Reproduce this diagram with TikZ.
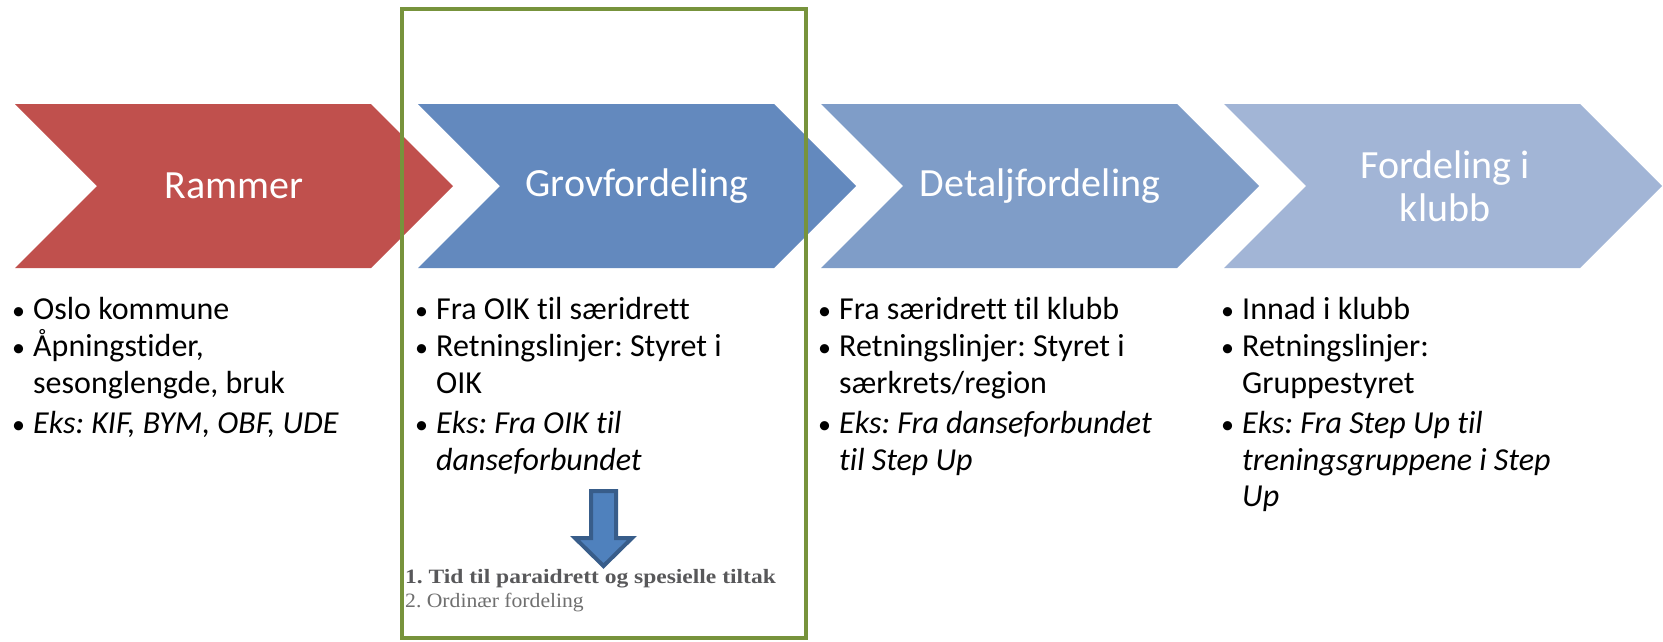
\documentclass[tikz,border=0pt]{standalone}
\usepackage{fontspec}
\setmainfont[Ligatures={NoCommon}]{Carlito}
\newfontfamily\geob[FakeStretch=1.155]{Liberation Serif}
\newfontfamily\geor[FakeStretch=1.064]{Liberation Serif}
\definecolor{cred}{HTML}{C0504D}
\definecolor{cblueA}{HTML}{6389BE}
\definecolor{cblueB}{HTML}{7F9DC8}
\definecolor{cblueC}{HTML}{A2B5D6}
\definecolor{cgreen}{HTML}{77933C}
\definecolor{arrfill}{HTML}{4F81BD}
\definecolor{arrline}{HTML}{385D8A}
\definecolor{gdark}{HTML}{58585A}
\definecolor{glight}{HTML}{6F6F6F}
\frenchspacing
\begin{document}
\begin{tikzpicture}[x=1pt,y=-1pt,
  lab/.style={font=\fontsize{40}{43}\selectfont, text=white, align=center, inner sep=0},
  txt/.style={font=\fontsize{32}{37}\selectfont, anchor=base west, inner sep=0, text=black},
  itx/.style={txt, font=\fontsize{32}{37}\selectfont\itshape},
  bul/.style={font=\fontsize{26}{37}\selectfont, anchor=base west, inner sep=0, text=black},
  noteb/.style={font=\geob\fontsize{20.35}{22}\selectfont\bfseries, anchor=base west, inner sep=0, text=gdark},
  noter/.style={font=\geor\fontsize{20.35}{22}\selectfont, anchor=base west, inner sep=0, text=glight}]
\useasboundingbox (0,0) rectangle (1663,641);
% chevrons
\newcommand{\chev}[2]{\fill[#2] (#1,104) -- ++(356,0) -- ++(82,82) -- ++(-82,82) -- ++(-356,0) -- ++(82,-82) -- cycle;}
\chev{15}{cred}
\chev{418}{cblueA}
\chev{821}{cblueB}
\chev{1224}{cblueC}
\node[lab] (l1) at (234,186) {Rammer};
\node[lab] (l2) at (637,186) {Grovfordeling};
\node[lab] (l3) at (1040,186) {Detaljfordeling};
\node[lab] (l4) at (1445,186) {Fordeling i\\klubb};
% column 1
\node[bul] (b11) at (12,319) {•};
\node[txt] (t11) at (33,319) {Oslo kommune};
\node[bul] (b12) at (12,356) {•};
\node[txt] (t12) at (33,356) {Åpningstider,};
\node[txt] (t13) at (33,393) {sesonglengde, bruk};
\node[bul] (b13) at (12,433) {•};
\node[itx] (t14) at (33,433) {Eks: KIF, BYM, OBF, UDE};
% column 2
\node[bul] (b21) at (415,319) {•};
\node[txt] (t21) at (436,319) {Fra OIK til særidrett};
\node[bul] (b22) at (415,356) {•};
\node[txt] (t22) at (436,356) {Retningslinjer: Styret i};
\node[txt] (t23) at (436,393) {OIK};
\node[bul] (b23) at (415,433) {•};
\node[itx] (t24) at (436,433) {Eks: Fra OIK til};
\node[itx] (t25) at (436,470) {danseforbundet};
% column 3
\node[bul] (b31) at (818,319) {•};
\node[txt] (t31) at (839,319) {Fra særidrett til klubb};
\node[bul] (b32) at (818,356) {•};
\node[txt] (t32) at (839,356) {Retningslinjer: Styret i};
\node[txt] (t33) at (839,393) {særkrets/region};
\node[bul] (b33) at (818,433) {•};
\node[itx] (t34) at (839,433) {Eks: Fra danseforbundet};
\node[itx] (t35) at (839,470) {til Step Up};
% column 4
\node[bul] (b41) at (1221,319) {•};
\node[txt] (t41) at (1242,319) {Innad i klubb};
\node[bul] (b42) at (1221,356) {•};
\node[txt] (t42) at (1242,356) {Retningslinjer:};
\node[txt] (t43) at (1242,393) {Gruppestyret};
\node[bul] (b43) at (1221,433) {•};
\node[itx] (t44) at (1242,433) {Eks: Fra Step Up til};
\node[itx] (t45) at (1242,470) {treningsgruppene i Step};
\node[itx] (t46) at (1242,506) {Up};
% down arrow
\draw[fill=arrfill, draw=arrline, line width=4pt, line join=miter]
  (591,491) -- (616,491) -- (616,538) -- (632,538) -- (603.5,566) -- (575,538) -- (591,538) -- cycle;
% notes
\node[noteb] (n1) at (405,583) {1. Tid til paraidrett og spesielle tiltak};
\node[noter] (n2) at (405,607) {2. Ordinær fordeling};
% green frame
\draw[cgreen, line width=4.5pt] (402,9) rectangle (806,638);
\end{tikzpicture}
\end{document}
